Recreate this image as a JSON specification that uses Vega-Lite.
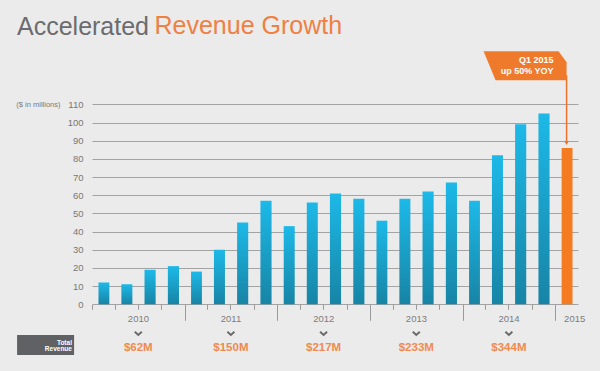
{
  "$schema": "https://vega.github.io/schema/vega-lite/v6.json",
  "width": 486,
  "height": 321,
  "autosize": "none",
  "padding": {"left": 92, "top": 50, "right": 22, "bottom": 0},
  "background": "#ebebeb",
  "config": {"view": {"stroke": null}, "font": "Liberation Sans"},
  "title": {
    "text": "Accelerated",
    "anchor": "start",
    "frame": "group",
    "dx": -75,
    "offset": -27,
    "font": "Liberation Sans",
    "fontSize": 25,
    "fontWeight": "normal",
    "color": "#6b6c6e"
  },
  "datasets": {
    "quarterly": [
      {"quarter": "2010-01-01T00:00", "revenue": 12},
      {"quarter": "2010-04-01T00:00", "revenue": 11},
      {"quarter": "2010-07-01T00:00", "revenue": 19},
      {"quarter": "2010-10-01T00:00", "revenue": 21},
      {"quarter": "2011-01-01T00:00", "revenue": 18},
      {"quarter": "2011-04-01T00:00", "revenue": 30},
      {"quarter": "2011-07-01T00:00", "revenue": 45},
      {"quarter": "2011-10-01T00:00", "revenue": 57},
      {"quarter": "2012-01-01T00:00", "revenue": 43},
      {"quarter": "2012-04-01T00:00", "revenue": 56},
      {"quarter": "2012-07-01T00:00", "revenue": 61},
      {"quarter": "2012-10-01T00:00", "revenue": 58},
      {"quarter": "2013-01-01T00:00", "revenue": 46},
      {"quarter": "2013-04-01T00:00", "revenue": 58},
      {"quarter": "2013-07-01T00:00", "revenue": 62},
      {"quarter": "2013-10-01T00:00", "revenue": 67},
      {"quarter": "2014-01-01T00:00", "revenue": 57},
      {"quarter": "2014-04-01T00:00", "revenue": 82},
      {"quarter": "2014-07-01T00:00", "revenue": 99},
      {"quarter": "2014-10-01T00:00", "revenue": 105},
      {"quarter": "2015-01-01T00:00", "revenue": 86, "note": "Q1 2015", "note2": "up 50% YOY"}
    ],
    "annual": [
      {"year": "2010-01-01T00:00", "total": "$62M"},
      {"year": "2011-01-01T00:00", "total": "$150M"},
      {"year": "2012-01-01T00:00", "total": "$217M"},
      {"year": "2013-01-01T00:00", "total": "$233M"},
      {"year": "2014-01-01T00:00", "total": "$344M"}
    ]
  },
  "layer": [
    {
      "data": {"name": "quarterly"},
      "transform": [{"filter": "year(datum.quarter) < 2015"}],
      "mark": {
        "type": "bar",
        "width": {"band": 0.52},
        "color": {
          "gradient": "linear", "x1": 0, "y1": 0, "x2": 0, "y2": 1,
          "stops": [{"offset": 0, "color": "#1db9e8"}, {"offset": 1, "color": "#1784a5"}]
        }
      },
      "encoding": {
        "x": {
          "field": "quarter", "timeUnit": "yearquarter", "type": "temporal",
          "scale": {"domain": [{"year": 2010, "month": 1, "date": 1}, {"year": 2015, "month": 4, "date": 1}]},
          "axis": {
            "orient": "bottom",
            "offset": -66.7,
            "title": "Revenue Growth",
            "titleX": 62,
            "titleY": -271.3,
            "titleAlign": "left",
            "titleBaseline": "alphabetic",
            "titleAnchor": "start",
            "titleFont": "Liberation Sans",
            "titleFontSize": 25,
            "titleFontWeight": "normal",
            "titleColor": "#ee8043",
            "grid": false,
            "domain": false,
            "tickCount": {"interval": "month", "step": 3},
            "tickColor": "#9a9a9a",
            "tickWidth": 1,
            "tickSize": {"condition": {"test": "month(datum.value) == 0 && year(datum.value) > 2010", "value": 16}, "value": 5},
            "tickOpacity": {"condition": {"test": "year(datum.value) == 2015 && month(datum.value) == 3", "value": 0}, "value": 1},
            "labelExpr": "month(datum.value) == 6 ? '' + year(datum.value) : (year(datum.value) == 2015 && month(datum.value) == 0 ? '2015' : '')",
            "labelOffset": {"condition": {"test": "year(datum.value) == 2015", "value": 19}, "value": 0},
            "labelPadding": {"condition": {"test": "year(datum.value) == 2015", "value": -7}, "value": 4},
            "labelOverlap": false,
            "labelFlush": false,
            "labelBound": false,
            "labelColor": "#7d7d7d",
            "labelFontSize": 9.5
          }
        },
        "y": {
          "field": "revenue", "type": "quantitative",
          "scale": {"domain": [-36.7, 139.9], "nice": false, "zero": false},
          "axis": {
            "tickCount": 20,
            "values": [0, 10, 20, 30, 40, 50, 60, 70, 80, 90, 100, 110],
            "labelExpr": "datum.value >= 0 && datum.value <= 110 ? datum.label : ''",
            "grid": true,
            "gridColor": "#a3a3a3",
            "gridWidth": 1,
            "gridOpacity": {"condition": {"test": "datum.value < 0 || datum.value > 110", "value": 0}, "value": 1},
            "domain": false,
            "ticks": false,
            "labelOverlap": false,
            "labelBound": false,
            "labelPadding": 9,
            "labelColor": "#777777",
            "labelFontSize": 9.5,
            "title": "($ in millions)",
            "titleAngle": 0,
            "titleAlign": "right",
            "titleBaseline": "middle",
            "titleX": -32,
            "titleY": 54.5,
            "titleFontSize": 7.5,
            "titleFontWeight": "normal",
            "titleColor": "#7a7a7a"
          }
        }
      }
    },
    {
      "data": {"name": "quarterly"},
      "transform": [{"filter": "year(datum.quarter) >= 2015"}],
      "mark": {"type": "bar", "width": {"band": 0.52}, "color": "#f47b20"},
      "encoding": {
        "x": {"field": "quarter", "timeUnit": "yearquarter", "type": "temporal"},
        "y": {"field": "revenue", "type": "quantitative"}
      }
    },
    {
      "data": {"name": "quarterly"},
      "transform": [{"filter": "year(datum.quarter) >= 2015"}],
      "mark": {"type": "rule", "color": "#e9732b", "strokeWidth": 1.5, "yOffset": -7},
      "encoding": {
        "x": {"field": "quarter", "timeUnit": "yearquarter", "type": "temporal", "bandPosition": 0.5},
        "y": {"field": "revenue", "type": "quantitative"},
        "y2": {"datum": 126}
      }
    },
    {
      "data": {"name": "quarterly"},
      "transform": [{"filter": "year(datum.quarter) >= 2015"}],
      "mark": {"type": "point", "shape": "triangle-down", "filled": true, "opacity": 1, "color": "#e9732b", "size": 22, "yOffset": -5},
      "encoding": {
        "x": {"field": "quarter", "timeUnit": "yearquarter", "type": "temporal", "bandPosition": 0.5},
        "y": {"field": "revenue", "type": "quantitative"}
      }
    },
    {
      "data": {"name": "quarterly"},
      "transform": [{"filter": "year(datum.quarter) >= 2015"}],
      "mark": {
        "type": "point",
        "shape": "M -2 -0.349 L -0.193 -0.349 L 0 -0.084 L 0 0.349 L -1.711 0.349 Z",
        "size": 6889,
        "filled": true,
        "opacity": 1,
        "color": "#f07a2c",
        "strokeWidth": 0
      },
      "encoding": {
        "x": {"field": "quarter", "timeUnit": "yearquarter", "type": "temporal", "bandPosition": 0.5},
        "y": {"datum": 131.2, "type": "quantitative"}
      }
    },
    {
      "data": {"name": "quarterly"},
      "transform": [{"filter": "year(datum.quarter) >= 2015"}],
      "mark": {"type": "text", "align": "right", "baseline": "middle", "dx": -13, "fontSize": 9, "fontWeight": "bold", "color": "#ffffff"},
      "encoding": {
        "x": {"field": "quarter", "timeUnit": "yearquarter", "type": "temporal", "bandPosition": 0.5},
        "y": {"datum": 134.3, "type": "quantitative"},
        "text": {"field": "note", "type": "nominal"}
      }
    },
    {
      "data": {"name": "quarterly"},
      "transform": [{"filter": "year(datum.quarter) >= 2015"}],
      "mark": {"type": "text", "align": "right", "baseline": "middle", "dx": -13, "fontSize": 9, "fontWeight": "bold", "color": "#ffffff"},
      "encoding": {
        "x": {"field": "quarter", "timeUnit": "yearquarter", "type": "temporal", "bandPosition": 0.5},
        "y": {"datum": 128.1, "type": "quantitative"},
        "text": {"field": "note2", "type": "nominal"}
      }
    },
    {
      "data": {"name": "annual"},
      "mark": {"type": "point", "shape": "M -1 -0.45 L 0 0.45 L 1 -0.45", "filled": false, "size": 49, "strokeWidth": 2, "opacity": 1, "color": "#6a6a6a"},
      "encoding": {
        "x": {"field": "year", "timeUnit": "year", "type": "temporal", "bandPosition": 0.5},
        "y": {"datum": -16, "type": "quantitative"}
      }
    },
    {
      "data": {"name": "annual"},
      "mark": {"type": "text", "baseline": "middle", "align": "center", "font": "Liberation Sans", "fontSize": 11.5, "fontWeight": "bold", "color": "#f08a4e"},
      "encoding": {
        "x": {"field": "year", "timeUnit": "year", "type": "temporal", "bandPosition": 0.5},
        "y": {"datum": -23.8, "type": "quantitative"},
        "text": {"field": "total", "type": "nominal"}
      }
    },
    {
      "data": {"values": [{"line1": "Total", "line2": "Revenue"}]},
      "mark": {
        "type": "point",
        "shape": "M -1 -0.351 L 1 -0.351 L 1 0.351 L -1 0.351 Z",
        "size": 3249,
        "filled": true,
        "opacity": 1,
        "color": "#5f6163",
        "strokeWidth": 0
      },
      "encoding": {
        "x": {"datum": {"year": 2009, "month": 7, "date": 2}, "type": "temporal"},
        "y": {"datum": -22.4, "type": "quantitative"}
      }
    },
    {
      "data": {"values": [{"line1": "Total", "line2": "Revenue"}]},
      "mark": {"type": "text", "align": "right", "baseline": "middle", "fontSize": 6.5, "fontWeight": "bold", "color": "#ffffff"},
      "encoding": {
        "x": {"datum": {"year": 2009, "month": 10, "date": 14}, "type": "temporal"},
        "y": {"datum": -21.2, "type": "quantitative"},
        "text": {"field": "line1", "type": "nominal"}
      }
    },
    {
      "data": {"values": [{"line1": "Total", "line2": "Revenue"}]},
      "mark": {"type": "text", "align": "right", "baseline": "middle", "fontSize": 6.5, "fontWeight": "bold", "color": "#ffffff"},
      "encoding": {
        "x": {"datum": {"year": 2009, "month": 10, "date": 14}, "type": "temporal"},
        "y": {"datum": -24.6, "type": "quantitative"},
        "text": {"field": "line2", "type": "nominal"}
      }
    }
  ]
}
